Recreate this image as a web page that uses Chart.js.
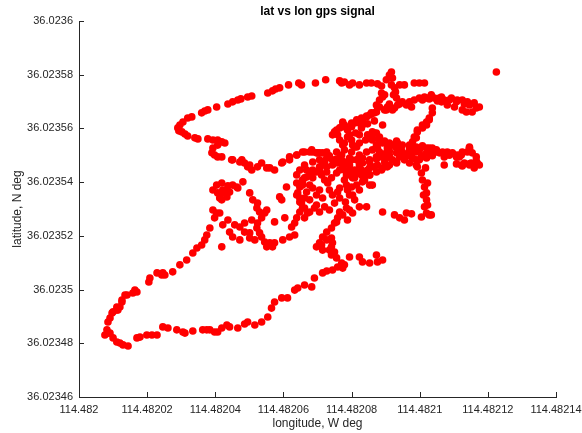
<!DOCTYPE html>
<html>
<head>
<meta charset="utf-8">
<script src="https://cdn.jsdelivr.net/npm/chart.js@4.4.1/dist/chart.umd.min.js"></script>
<style>
  html, body { margin: 0; padding: 0; background: #ffffff; }
  #wrap { width: 582px; height: 433px; }
</style>
</head>
<body>
<div id="wrap"><canvas id="gps" width="582" height="433"></canvas></div>
<script>
// lat vs lon gps signal

// axis ticks
const xTicks = [114.482, 114.48202, 114.48204, 114.48206, 114.48208, 114.4821, 114.48212, 114.48214];
const xTickLabels = ['114.482', '114.48202', '114.48204', '114.48206', '114.48208', '114.4821', '114.48212', '114.48214'];
const yTicks = [36.02346, 36.02348, 36.0235, 36.02352, 36.02354, 36.02356, 36.02358, 36.0236];
const yTickLabels = ['36.02346', '36.02348', '36.0235', '36.02352', '36.02354', '36.02356', '36.02358', '36.0236'];

// south-west loop
const lonLoop = [
  114.4820422, 114.4820413, 114.4820393, 114.4820404, 114.4820398, 114.4820422, 114.4820384, 114.4820375,
  114.4820369, 114.4820360, 114.4820346, 114.4820334, 114.4820316, 114.4820296, 114.4820275, 114.4820246,
  114.4820229, 114.4820208, 114.4820205, 114.4820170, 114.4820158, 114.4820141, 114.4820126, 114.4820120,
  114.4820111, 114.4820100, 114.4820091, 114.4820085, 114.4820082, 114.4820076, 114.4820091, 114.4820100,
  114.4820111, 114.4820120, 114.4820129, 114.4820144, 114.4820170, 114.4820179, 114.4820199, 114.4820214,
  114.4820229, 114.4820246, 114.4820261, 114.4820287, 114.4820305, 114.4820311, 114.4820334, 114.4820363,
  114.4820375, 114.4820384, 114.4820398, 114.4820407, 114.4820419, 114.4820434, 114.4820442, 114.4820466,
  114.4820486, 114.4820495, 114.4820516, 114.4820536, 114.4820554, 114.4820565, 114.4820574, 114.4820595,
  114.4820612, 114.4820633, 114.4820642, 114.4820662, 114.4820683, 114.4820691, 114.4820715, 114.4820727,
  114.4820744, 114.4820759, 114.4820774, 114.4820779, 114.4820771, 114.4820756, 114.4820741, 114.4820735,
  114.4820715, 114.4820712, 114.4820697, 114.4820727, 114.4820741, 114.4820744, 114.4820794, 114.4820823,
  114.4820832, 114.4820853, 114.4820873, 114.4820876, 114.4820891, 114.4820097, 114.4820114, 114.4820135,
  114.4820164, 114.4820243, 114.4820252, 114.4820111, 114.4820126, 114.4820419, 114.4820085
];
const latLoop = [
  36.0235371, 36.0235341, 36.0235296, 36.0235285, 36.0235267, 36.0235241, 36.0235229, 36.0235203,
  36.0235185, 36.0235166, 36.0235155, 36.0235136, 36.0235110, 36.0235092, 36.0235066, 36.0235062,
  36.0235062, 36.0235043, 36.0235028, 36.0234991, 36.0234987, 36.0234980, 36.0234954, 36.0234935,
  36.0234924, 36.0234917, 36.0234894, 36.0234879, 36.0234850, 36.0234831, 36.0234838, 36.0234820,
  36.0234805, 36.0234801, 36.0234794, 36.0234790, 36.0234820, 36.0234823, 36.0234831, 36.0234831,
  36.0234831, 36.0234861, 36.0234857, 36.0234850, 36.0234842, 36.0234838, 36.0234846, 36.0234850,
  36.0234850, 36.0234850, 36.0234842, 36.0234842, 36.0234857, 36.0234868, 36.0234861, 36.0234857,
  36.0234872, 36.0234879, 36.0234868, 36.0234879, 36.0234898, 36.0234931, 36.0234954, 36.0234969,
  36.0234969, 36.0234998, 36.0235006, 36.0235017, 36.0235010, 36.0235043, 36.0235062, 36.0235069,
  36.0235073, 36.0235084, 36.0235080, 36.0235092, 36.0235099, 36.0235118, 36.0235129, 36.0235147,
  36.0235147, 36.0235166, 36.0235159, 36.0235185, 36.0235192, 36.0235174, 36.0235121, 36.0235121,
  36.0235103, 36.0235099, 36.0235129, 36.0235103, 36.0235110, 36.0234913, 36.0234924, 36.0234980,
  36.0234998, 36.0235054, 36.0235054, 36.0234935, 36.0234961, 36.0235159, 36.0234838
];

// north-west loop and top arc
const lonNorth = [
  114.4820360, 114.4820369, 114.4820331, 114.4820319, 114.4820305, 114.4820296, 114.4820290, 114.4820293,
  114.4820302, 114.4820311, 114.4820319, 114.4820340, 114.4820349, 114.4820378, 114.4820393, 114.4820407,
  114.4820419, 114.4820428, 114.4820407, 114.4820393, 114.4820390, 114.4820398, 114.4820407, 114.4820419,
  114.4820451, 114.4820472, 114.4820486, 114.4820495, 114.4820507, 114.4820524, 114.4820551, 114.4820560,
  114.4820574, 114.4820595, 114.4820618, 114.4820639, 114.4820662, 114.4820686, 114.4820706, 114.4820727,
  114.4820478, 114.4820378, 114.4820404, 114.4820437, 114.4820451, 114.4820466, 114.4820475, 114.4820495,
  114.4820507, 114.4820554, 114.4820568, 114.4820577, 114.4820589, 114.4820615, 114.4820645, 114.4820653,
  114.4820694, 114.4820724, 114.4820765, 114.4820771, 114.4820794, 114.4820803, 114.4820823, 114.4820844,
  114.4820858, 114.4820876, 114.4820888, 114.4820902, 114.4820911, 114.4820920, 114.4820917, 114.4820926,
  114.4820941, 114.4820955, 114.4820984, 114.4820999, 114.4821014, 114.4820917, 114.4820923, 114.4820891,
  114.4820882, 114.4821225, 114.4820779, 114.4820929
];
const latNorth = [
  36.0235658, 36.0235665, 36.0235643, 36.0235639, 36.0235624, 36.0235613, 36.0235602, 36.0235591,
  36.0235587, 36.0235579, 36.0235572, 36.0235565, 36.0235561, 36.0235561, 36.0235557, 36.0235557,
  36.0235550, 36.0235546, 36.0235538, 36.0235527, 36.0235509, 36.0235501, 36.0235494, 36.0235494,
  36.0235483, 36.0235475, 36.0235471, 36.0235457, 36.0235445, 36.0235457, 36.0235453, 36.0235453,
  36.0235445, 36.0235471, 36.0235483, 36.0235501, 36.0235512, 36.0235512, 36.0235509, 36.0235512,
  36.0235483, 36.0235669, 36.0235680, 36.0235691, 36.0235699, 36.0235706, 36.0235710, 36.0235717,
  36.0235721, 36.0235732, 36.0235740, 36.0235747, 36.0235751, 36.0235762, 36.0235769, 36.0235762,
  36.0235769, 36.0235781, 36.0235777, 36.0235769, 36.0235762, 36.0235769, 36.0235762, 36.0235769,
  36.0235769, 36.0235766, 36.0235758, 36.0235781, 36.0235799, 36.0235788, 36.0235762, 36.0235751,
  36.0235762, 36.0235762, 36.0235769, 36.0235769, 36.0235769, 36.0235810, 36.0235725, 36.0235717,
  36.0235706, 36.0235810, 36.0235773, 36.0235736
];

// east arms
const lonEast = [
  114.4820888, 114.4820897, 114.4820876, 114.4820897, 114.4820905, 114.4820920, 114.4820949, 114.4820961,
  114.4820976, 114.4820984, 114.4820999, 114.4821014, 114.4821034, 114.4821043, 114.4821064, 114.4821072,
  114.4821093, 114.4821110, 114.4821125, 114.4821140, 114.4821146, 114.4821160, 114.4821175, 114.4821154,
  114.4821137, 114.4821125, 114.4821102, 114.4821081, 114.4821064, 114.4821037, 114.4821037, 114.4821028,
  114.4821020, 114.4821008, 114.4820993, 114.4820984, 114.4820979, 114.4820932, 114.4821023, 114.4821052,
  114.4821005, 114.4821020, 114.4821034, 114.4821049, 114.4821067, 114.4821081, 114.4821096, 114.4821122,
  114.4821140, 114.4821146, 114.4821154, 114.4821169, 114.4821175, 114.4821151, 114.4821131, 114.4821116,
  114.4821087, 114.4821058, 114.4821072, 114.4821110, 114.4821166, 114.4821037, 114.4820976, 114.4820990,
  114.4820993, 114.4820955, 114.4820932, 114.4820905, 114.4820888, 114.4820867, 114.4820847, 114.4820832,
  114.4820817, 114.4821005, 114.4821008, 114.4821014, 114.4821020, 114.4821020, 114.4821014, 114.4821020,
  114.4821028, 114.4821005, 114.4820976, 114.4820955, 114.4820941, 114.4820926, 114.4820891, 114.4820844,
  114.4821023, 114.4821072, 114.4821122, 114.4821160, 114.4821017, 114.4820961
];
const latEast = [
  36.0235732, 36.0235725, 36.0235680, 36.0235669, 36.0235680, 36.0235669, 36.0235699, 36.0235687,
  36.0235680, 36.0235706, 36.0235713, 36.0235717, 36.0235725, 36.0235713, 36.0235717, 36.0235706,
  36.0235713, 36.0235706, 36.0235706, 36.0235699, 36.0235687, 36.0235695, 36.0235680, 36.0235661,
  36.0235661, 36.0235669, 36.0235680, 36.0235687, 36.0235699, 36.0235676, 36.0235658, 36.0235639,
  36.0235624, 36.0235613, 36.0235594, 36.0235568, 36.0235550, 36.0235713, 36.0235713, 36.0235702,
  36.0235494, 36.0235509, 36.0235520, 36.0235512, 36.0235509, 36.0235512, 36.0235509, 36.0235501,
  36.0235512, 36.0235531, 36.0235509, 36.0235471, 36.0235464, 36.0235471, 36.0235471, 36.0235494,
  36.0235501, 36.0235509, 36.0235494, 36.0235501, 36.0235494, 36.0235527, 36.0235494, 36.0235483,
  36.0235457, 36.0235483, 36.0235471, 36.0235457, 36.0235445, 36.0235457, 36.0235445, 36.0235434,
  36.0235434, 36.0235434, 36.0235408, 36.0235382, 36.0235360, 36.0235334, 36.0235308, 36.0235285,
  36.0235278, 36.0235270, 36.0235282, 36.0235259, 36.0235267, 36.0235278, 36.0235289, 36.0235308,
  36.0235315, 36.0235464, 36.0235464, 36.0235453, 36.0235453, 36.0235285
];

// central cluster, upper part
const lonCore = [
  114.4820873, 114.4820858, 114.4820844, 114.4820832, 114.4820823, 114.4820809, 114.4820800, 114.4820788,
  114.4820779, 114.4820794, 114.4820800, 114.4820809, 114.4820823, 114.4820847, 114.4820861, 114.4820873,
  114.4820882, 114.4820891, 114.4820876, 114.4820905, 114.4820920, 114.4820935, 114.4820949, 114.4820970,
  114.4820979, 114.4820990, 114.4820999, 114.4821020, 114.4821028, 114.4820750, 114.4820759, 114.4820765,
  114.4820779, 114.4820853, 114.4820867, 114.4820882, 114.4820902, 114.4820926, 114.4820891, 114.4820832,
  114.4820815, 114.4820861, 114.4820867, 114.4820873, 114.4820946, 114.4820949, 114.4820932, 114.4820911,
  114.4820902, 114.4820888, 114.4820873, 114.4820853, 114.4820832, 114.4820817, 114.4820800, 114.4820785,
  114.4820759, 114.4820744, 114.4820727, 114.4820706, 114.4820686, 114.4820668, 114.4820656, 114.4820648,
  114.4820642, 114.4820648, 114.4820653, 114.4820662, 114.4820671, 114.4820756, 114.4820771, 114.4820774,
  114.4820774, 114.4820448, 114.4820536, 114.4820598, 114.4820683, 114.4820700, 114.4820756, 114.4820771,
  114.4820759, 114.4820721
];
const latCore = [
  36.0235687, 36.0235658, 36.0235643, 36.0235632, 36.0235620, 36.0235620, 36.0235606, 36.0235594,
  36.0235606, 36.0235576, 36.0235557, 36.0235531, 36.0235546, 36.0235576, 36.0235587, 36.0235583,
  36.0235557, 36.0235546, 36.0235527, 36.0235527, 36.0235538, 36.0235546, 36.0235538, 36.0235527,
  36.0235512, 36.0235531, 36.0235520, 36.0235527, 36.0235512, 36.0235587, 36.0235576, 36.0235557,
  36.0235546, 36.0235650, 36.0235658, 36.0235680, 36.0235669, 36.0235676, 36.0235613, 36.0235613,
  36.0235531, 36.0235557, 36.0235583, 36.0235538, 36.0235531, 36.0235509, 36.0235509, 36.0235501,
  36.0235509, 36.0235494, 36.0235494, 36.0235483, 36.0235490, 36.0235483, 36.0235483, 36.0235471,
  36.0235471, 36.0235464, 36.0235457, 36.0235457, 36.0235445, 36.0235419, 36.0235408, 36.0235382,
  36.0235360, 36.0235341, 36.0235322, 36.0235304, 36.0235285, 36.0235594, 36.0235606, 36.0235624,
  36.0235538, 36.0235483, 36.0235471, 36.0235475, 36.0235520, 36.0235509, 36.0235512, 36.0235501,
  36.0235483, 36.0235475
];

// central cluster, lower part
const lonSouth = [
  114.4820501, 114.4820481, 114.4820463, 114.4820442, 114.4820434, 114.4820419, 114.4820434, 114.4820501,
  114.4820510, 114.4820524, 114.4820522, 114.4820530, 114.4820545, 114.4820536, 114.4820524, 114.4820522,
  114.4820501, 114.4820486, 114.4820472, 114.4820457, 114.4820437, 114.4820442, 114.4820451, 114.4820472,
  114.4820501, 114.4820516, 114.4820536, 114.4820545, 114.4820560, 114.4820568, 114.4820551, 114.4820530,
  114.4820507, 114.4820486, 114.4820574, 114.4820595, 114.4820604, 114.4820624, 114.4820633, 114.4820639,
  114.4820648, 114.4820662, 114.4820691, 114.4820721, 114.4820662, 114.4820656, 114.4820662, 114.4820683,
  114.4820706, 114.4820712, 114.4820721, 114.4820730, 114.4820741, 114.4820756, 114.4820765, 114.4820774,
  114.4820759, 114.4820765, 114.4820750, 114.4820765, 114.4820759, 114.4820750, 114.4820741, 114.4820727,
  114.4820715, 114.4820706, 114.4820633, 114.4820618, 114.4820598, 114.4820574, 114.4820779, 114.4820794,
  114.4820809, 114.4820838, 114.4820853, 114.4820788, 114.4820782, 114.4820794, 114.4820788, 114.4820800,
  114.4820803, 114.4820809, 114.4820803, 114.4820832, 114.4820861, 114.4820823, 114.4820589, 114.4820609,
  114.4820639, 114.4820551, 114.4820413, 114.4820422, 114.4820741, 114.4820750, 114.4820823, 114.4820794
];
const latSouth = [
  36.0235464, 36.0235401, 36.0235382, 36.0235363, 36.0235345, 36.0235334, 36.0235371, 36.0235360,
  36.0235334, 36.0235322, 36.0235304, 36.0235289, 36.0235285, 36.0235267, 36.0235248, 36.0235229,
  36.0235211, 36.0235214, 36.0235233, 36.0235241, 36.0235259, 36.0235214, 36.0235196, 36.0235185,
  36.0235192, 36.0235185, 36.0235196, 36.0235177, 36.0235174, 36.0235159, 36.0235159, 36.0235211,
  36.0235259, 36.0235248, 36.0235252, 36.0235334, 36.0235267, 36.0235233, 36.0235248, 36.0235267,
  36.0235289, 36.0235267, 36.0235304, 36.0235308, 36.0235341, 36.0235389, 36.0235416, 36.0235438,
  36.0235445, 36.0235427, 36.0235408, 36.0235397, 36.0235416, 36.0235434, 36.0235445, 36.0235457,
  36.0235363, 36.0235341, 36.0235322, 36.0235289, 36.0235267, 36.0235248, 36.0235229, 36.0235214,
  36.0235196, 36.0235174, 36.0235203, 36.0235196, 36.0235185, 36.0235174, 36.0235445, 36.0235427,
  36.0235445, 36.0235408, 36.0235427, 36.0235371, 36.0235326, 36.0235296, 36.0235259, 36.0235382,
  36.0235352, 36.0235334, 36.0235285, 36.0235401, 36.0235389, 36.0235308, 36.0235345, 36.0235382,
  36.0235397, 36.0235296, 36.0235285, 36.0235360, 36.0235159, 36.0235140, 36.0235464, 36.0235464
];

// dense centre, extra fixes
const lonMass = [
  114.4820618, 114.4820639, 114.4820656, 114.4820677, 114.4820697, 114.4820715, 114.4820735, 114.4820756,
  114.4820774, 114.4820794, 114.4820815, 114.4820832, 114.4820853, 114.4820873, 114.4820891, 114.4820911,
  114.4820932, 114.4820949, 114.4820970, 114.4820990, 114.4821008, 114.4821049, 114.4821067, 114.4821087,
  114.4821108, 114.4821125, 114.4821146,
  114.4820774, 114.4820794, 114.4820815, 114.4820832, 114.4820853, 114.4820873, 114.4820891, 114.4820911,
  114.4820932, 114.4820970, 114.4820990, 114.4821108, 114.4821125, 114.4821146,
  114.4820744, 114.4820765, 114.4820779, 114.4820800, 114.4820815, 114.4820829, 114.4820844, 114.4820858,
  114.4820873, 114.4820867, 114.4820861, 114.4820882, 114.4820897, 114.4820911, 114.4820932, 114.4820970,
  114.4821008, 114.4821028, 114.4821049, 114.4821067, 114.4821087, 114.4821108, 114.4821125, 114.4821146,
  114.4821166, 114.4821146,
  114.4820941, 114.4820970, 114.4821008, 114.4821028, 114.4821058, 114.4821087, 114.4821108, 114.4821131,
  114.4821166, 114.4821028, 114.4821020, 114.4821008, 114.4820993, 114.4820990, 114.4820911, 114.4820935,
  114.4820715, 114.4820697, 114.4820677, 114.4820656, 114.4820639, 114.4820648, 114.4820656, 114.4820677,
  114.4820697, 114.4820715, 114.4820744, 114.4820765, 114.4820785, 114.4820794, 114.4820785, 114.4820774,
  114.4820756, 114.4820803, 114.4820815, 114.4820853, 114.4820727, 114.4820686, 114.4820677, 114.4820668,
  114.4820686, 114.4820697, 114.4820706, 114.4820677, 114.4820706, 114.4820735, 114.4820823, 114.4820779,
  114.4820735,
  114.4821023, 114.4821011, 114.4821034
];
const latMass = [
  36.0235494, 36.0235501, 36.0235512, 36.0235512, 36.0235509, 36.0235509, 36.0235498, 36.0235486,
  36.0235479, 36.0235490, 36.0235483, 36.0235471, 36.0235475, 36.0235486, 36.0235498, 36.0235516,
  36.0235527, 36.0235512, 36.0235516, 36.0235512, 36.0235498, 36.0235516, 36.0235509, 36.0235501,
  36.0235494, 36.0235509, 36.0235524,
  36.0235453, 36.0235442, 36.0235430, 36.0235423, 36.0235427, 36.0235438, 36.0235453, 36.0235464,
  36.0235475, 36.0235471, 36.0235464, 36.0235468, 36.0235460, 36.0235468,
  36.0235576, 36.0235602, 36.0235613, 36.0235620, 36.0235632, 36.0235639, 36.0235646, 36.0235654,
  36.0235661, 36.0235628, 36.0235565, 36.0235568, 36.0235553, 36.0235546, 36.0235553, 36.0235538,
  36.0235535, 36.0235527, 36.0235520, 36.0235512, 36.0235505, 36.0235498, 36.0235512, 36.0235527,
  36.0235479, 36.0235464,
  36.0235691, 36.0235699, 36.0235706, 36.0235710, 36.0235713, 36.0235706, 36.0235699, 36.0235691,
  36.0235676, 36.0235632, 36.0235613, 36.0235602, 36.0235587, 36.0235565, 36.0235691, 36.0235687,
  36.0235464, 36.0235438, 36.0235427, 36.0235401, 36.0235352, 36.0235326, 36.0235304, 36.0235289,
  36.0235315, 36.0235341, 36.0235352, 36.0235378, 36.0235389, 36.0235352, 36.0235304, 36.0235278,
  36.0235252, 36.0235416, 36.0235389, 36.0235389, 36.0235438, 36.0235416, 36.0235389, 36.0235363,
  36.0235378, 36.0235352, 36.0235371, 36.0235334, 36.0235289, 36.0235296, 36.0235371, 36.0235408,
  36.0235371,
  36.0235397, 36.0235352, 36.0235278
];

// more fixes where the track piles up
const lonFill = [
  114.4820779, 114.4820800, 114.4820823, 114.4820844, 114.4820861, 114.4820882, 114.4820902, 114.4820920,
  114.4820941, 114.4820961, 114.4820979, 114.4820999, 114.4821020, 114.4821037, 114.4820785, 114.4820809,
  114.4820829, 114.4820853, 114.4820876, 114.4820897, 114.4820765, 114.4820744, 114.4820727, 114.4820706,
  114.4820686, 114.4820662, 114.4820648, 114.4820639, 114.4820668, 114.4820788, 114.4820812, 114.4820829,
  114.4820847, 114.4820823, 114.4820841, 114.4820803, 114.4820404, 114.4820419, 114.4820437, 114.4820451,
  114.4820407, 114.4820393, 114.4820466
];
const latFill = [
  36.0235520, 36.0235512, 36.0235501, 36.0235512, 36.0235520, 36.0235512, 36.0235490, 36.0235483,
  36.0235494, 36.0235498, 36.0235490, 36.0235483, 36.0235490, 36.0235498, 36.0235427, 36.0235416,
  36.0235445, 36.0235453, 36.0235464, 36.0235475, 36.0235490, 36.0235483, 36.0235490, 36.0235483,
  36.0235475, 36.0235464, 36.0235445, 36.0235427, 36.0235445, 36.0235568, 36.0235583, 36.0235602,
  36.0235617, 36.0235576, 36.0235557, 36.0235538, 36.0235389, 36.0235397, 36.0235386, 36.0235389,
  36.0235360, 36.0235371, 36.0235378
];

const FONT = '"Liberation Sans", Arial, Helvetica, sans-serif';
const INK = '#262626';
Chart.defaults.font.family = FONT;

const toPoints = (lon, lat) => lon.map((v, i) => ({ x: v, y: lat[i] }));
const track = [
    ...toPoints(lonLoop, latLoop),
    ...toPoints(lonNorth, latNorth),
    ...toPoints(lonEast, latEast),
    ...toPoints(lonCore, latCore),
    ...toPoints(lonSouth, latSouth),
    ...toPoints(lonMass, latMass),
    ...toPoints(lonFill, latFill),
];

// matlab style ticks pointing into the plot
const innerTicks = {
    id: 'innerTicks',
    afterDatasetsDraw(chart) {
        const { ctx, chartArea, scales } = chart;
        ctx.save();
        ctx.strokeStyle = INK;
        ctx.lineWidth = 1;
        ctx.beginPath();
        xTicks.forEach((v) => {
            const px = Math.round(scales.x.getPixelForValue(v)) + 0.5;
            ctx.moveTo(px, chartArea.bottom);
            ctx.lineTo(px, chartArea.bottom - 5);
        });
        yTicks.forEach((v) => {
            const py = Math.round(scales.y.getPixelForValue(v)) + 0.5;
            ctx.moveTo(chartArea.left, py);
            ctx.lineTo(chartArea.left + 5, py);
        });
        ctx.stroke();
        ctx.restore();
    },
};

new Chart(document.getElementById('gps').getContext('2d'), {
    type: 'scatter',
    data: {
        datasets: [
            {
                label: 'gps',
                data: track,
                backgroundColor: '#ff0000',
                borderWidth: 0,
                pointRadius: 3.8,
                pointHoverRadius: 3.8,
            },
        ],
    },
    options: {
        responsive: false,
        animation: false,
        layout: { padding: { left: 0, right: 26, top: 0, bottom: 0 } },
        plugins: {
            legend: { display: false },
            tooltip: { enabled: false },
            title: {
                display: true,
                text: 'lat vs lon gps signal',
                fullSize: false,
                color: '#000000',
                font: { family: FONT, size: 12, weight: 'bold' },
                padding: { top: 4, bottom: 2.6 },
            },
        },
        scales: {
            x: {
                type: 'linear',
                min: 114.482,
                max: 114.48214,
                afterBuildTicks: (s) => { s.ticks = xTicks.map((v) => ({ value: v })); },
                afterFit: (s) => {
                    s.height = 36;
                    s.paddingLeft = 0;
                    s.paddingRight = 0;
                },
                grid: { display: false, drawTicks: false },
                border: { display: true, color: INK, width: 1 },
                ticks: {
                    callback: (v, i) => xTickLabels[i],
                    color: INK,
                    font: { family: FONT, size: 11 },
                    padding: 6,
                    maxRotation: 0,
                    autoSkip: false,
                },
                title: {
                    display: true,
                    text: 'longitude, W deg',
                    color: INK,
                    font: { family: FONT, size: 12 },
                    padding: { top: 0, bottom: 2 },
                },
            },
            y: {
                type: 'linear',
                min: 36.02346,
                max: 36.0236,
                afterBuildTicks: (s) => { s.ticks = yTicks.map((v) => ({ value: v })); },
                afterFit: (s) => { s.width = 79; },
                grid: { display: false, drawTicks: false },
                border: { display: true, color: INK, width: 1 },
                ticks: {
                    callback: (v, i) => yTickLabels[i],
                    color: INK,
                    font: { family: FONT, size: 11 },
                    padding: 6,
                    autoSkip: false,
                },
                title: {
                    display: true,
                    text: 'latitude, N deg',
                    color: INK,
                    font: { family: FONT, size: 12 },
                    padding: { top: 10, bottom: 0 },
                },
            },
        },
    },
    plugins: [innerTicks],
});
</script>
</body>
</html>
